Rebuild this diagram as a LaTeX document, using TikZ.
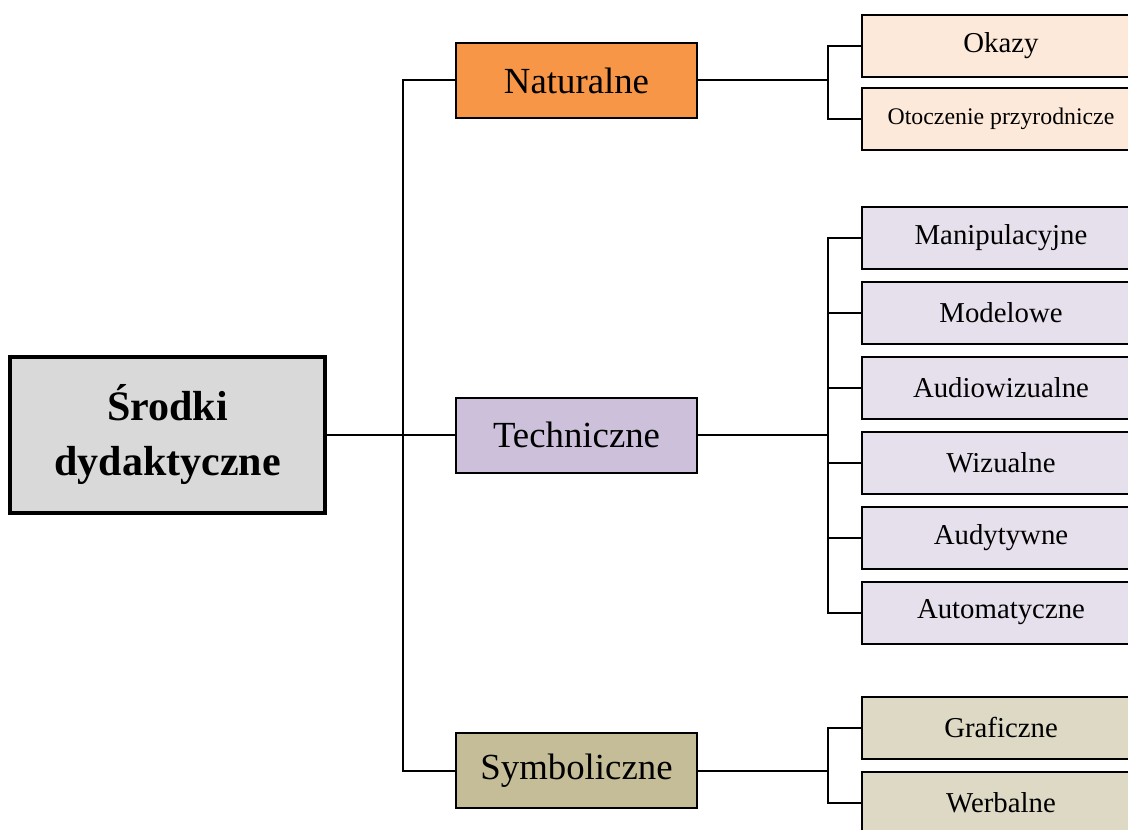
\documentclass[tikz,border=0pt]{standalone}
\usepackage{fontspec}
\setmainfont{Liberation Serif}
\usepackage{xcolor}
\usepackage{tikz}
\usetikzlibrary{positioning}
\definecolor{rootgray}{HTML}{D9D9D9}
\definecolor{natorange}{HTML}{F79646}
\definecolor{natlight}{HTML}{FDE9D9}
\definecolor{techlilac}{HTML}{CCC0DA}
\definecolor{techlight}{HTML}{E5E0EC}
\definecolor{symkhaki}{HTML}{C4BD97}
\definecolor{symlight}{HTML}{DDD9C4}

\begin{document}
\begin{tikzpicture}[
  x=0.5pt, y=-0.5pt,
  rootbox/.style={draw, line width=2pt, fill=rootgray, minimum width=157.5pt,
                  minimum height=78pt, inner sep=0pt, align=center,
                  font=\fontsize{21}{27.5}\selectfont\bfseries},
  groupbox/.style={draw, line width=1pt, minimum width=120.5pt,
                   minimum height=37.5pt, inner sep=0pt,
                   font=\fontsize{18.4}{22}\selectfont},
  leafbox/.style={draw, line width=1pt, minimum width=139pt,
                  minimum height=31pt, inner sep=0pt,
                  font=\fontsize{14.4}{17}\selectfont},
  link/.style={line width=1pt}
]
  \useasboundingbox (0,0) rectangle (1128,829);
  \clip (0,0) rectangle (1128,829);

  % root
  \node[rootbox] (root) at (167.5,435) {Środki\\dydaktyczne};

  % groups
  \node[groupbox, fill=natorange] (nat) at (576.5,80.5) {Naturalne};
  \node[groupbox, fill=techlilac] (tech) at (576.5,435) {Techniczne};
  \node[groupbox, fill=symkhaki] (sym) at (576.5,770.5) {Symboliczne};

  % natural aids
  \node[leafbox, fill=natlight] (okazy) at (1001,46) {Okazy};
  \node[leafbox, fill=natlight, below=4.5pt of okazy,
        font=\fontsize{11.9}{14}\selectfont] (otocz) {Otoczenie przyrodnicze};

  % technical aids
  \node[leafbox, fill=techlight] (manip) at (1001,237.5) {Manipulacyjne};
  \node[leafbox, fill=techlight, below=5.5pt of manip] (model) {Modelowe};
  \node[leafbox, fill=techlight, below=5.5pt of model] (audiowiz) {Audiowizualne};
  \node[leafbox, fill=techlight, below=5.5pt of audiowiz] (wizual) {Wizualne};
  \node[leafbox, fill=techlight, below=5.5pt of wizual] (audyt) {Audytywne};
  \node[leafbox, fill=techlight, below=5.5pt of audyt] (autom) {Automatyczne};

  % symbolic aids
  \node[leafbox, fill=symlight] (graf) at (1001,727.5) {Graficzne};
  \node[leafbox, fill=symlight, below=5.5pt of graf] (werb) {Werbalne};

  % trunk
  \coordinate (trunk) at (403,435);
  \draw[link] (root.east) -- (tech.west);
  \draw[link] (nat.west) -| (trunk) |- (sym.west);

  % forks
  \coordinate (natfork) at (828,80.5);
  \coordinate (techfork) at (828,435);
  \coordinate (symfork) at (828,770.5);
  \draw[link] (nat.east) -- (natfork);
  \draw[link] (okazy.west) -| (natfork) |- (otocz.west);
  \draw[link] (tech.east) -- (techfork);
  \draw[link] (manip.west) -| (techfork) |- (autom.west);
  \foreach \kid in {model, audiowiz, wizual, audyt}
    \draw[link] (\kid.west) -- (\kid.west -| techfork);
  \draw[link] (sym.east) -- (symfork);
  \draw[link] (graf.west) -| (symfork) |- (werb.west);
\end{tikzpicture}
\end{document}
